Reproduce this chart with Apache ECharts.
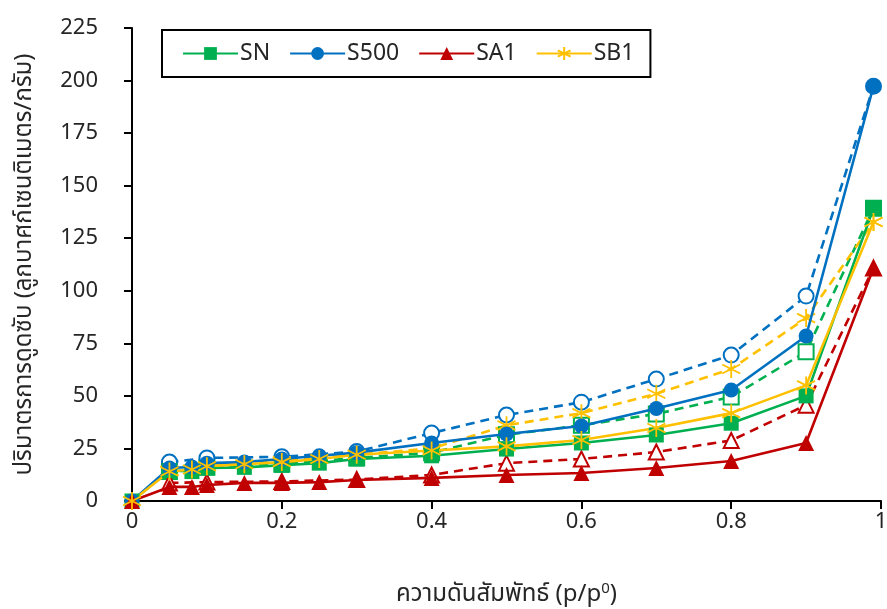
<!DOCTYPE html>
<html>
<head>
<meta charset="utf-8">
<script src="https://cdn.jsdelivr.net/npm/echarts@6/dist/echarts.min.js"></script>
<style>
  html, body { margin: 0; padding: 0; background: #fff; }
  #chart { width: 887px; height: 609px; }
</style>
</head>
<body>
<div id="chart"></div>
<script>
// Nitrogen sorption isotherms: adsorption (solid) and desorption (dashed)
const adsP = [0, 0.05, 0.08, 0.1, 0.15, 0.2, 0.25, 0.3, 0.4, 0.5, 0.6, 0.7, 0.8, 0.9, 0.99];
const desP = [0.05, 0.1, 0.2, 0.3, 0.4, 0.5, 0.6, 0.7, 0.8, 0.9, 0.99];

const snAds   = [0, 14.5, 14, 15.7, 16, 17, 18, 20, 21.5, 24.7, 27.6, 31.4, 37, 50, 139.3];
const s500Ads = [0, 15.7, 16.2, 18, 18.5, 20, 21.5, 23, 27.6, 31.9, 35.7, 44, 52.8, 78.5, 197.3];
const sa1Ads  = [0, 6.7, 6.7, 7.6, 8.6, 8.6, 9, 10, 11, 12.4, 13.3, 15.7, 19, 27.6, 110.8];
const sb1Ads  = [0, 14, 15, 16.5, 17.5, 18.5, 20, 22, 24, 26, 29, 34.7, 41.8, 55, 132.7];

const snDes   = [14, 16, 17.5, 20.5, 23, 31.5, 36, 41.4, 49.5, 71, 139.3];
const s500Des = [18.5, 20.5, 21, 23.5, 32.3, 40.9, 47, 58, 69.4, 97.5, 197.3];
const sa1Des  = [8.6, 9, 9.3, 10.2, 12.4, 18, 20, 23.3, 28.8, 45.6, 110.8];
const sb1Des  = [14.5, 16.5, 19, 22, 25, 36, 41.8, 51, 62.8, 87, 132.7];

const seriesNames = ['SN', 'S500', 'SA1', 'SB1'];
const xTicks = ['0', '0.2', '0.4', '0.6', '0.8', '1'];

const COLORS = { SN: '#00B050', S500: '#0070C0', SA1: '#C00000', SB1: '#FFC000' };
const STAR = 'path://M0,-10L0,10M-8.66,-5L8.66,5M-8.66,5L8.66,-5';
const FONT = '"Noto Sans", "Noto Sans Thai", "Open Sans", sans-serif';

function pairs(xs, ys) { return xs.map((x, i) => [x, ys[i]]); }

function adsSeries(name, ys, symbol) {
  const c = COLORS[name];
  const star = symbol === STAR;
  return {
    name, type: 'line', data: pairs(adsP, ys), z: 5,
    symbol, symbolSize: star ? 18 : (symbol === 'triangle' ? 16 : 15),
    lineStyle: { color: c, width: 2.6 },
    itemStyle: star ? { color: c, borderColor: c, borderWidth: 1.8 } : { color: c, borderWidth: 0 },
    emphasis: { disabled: true }, animation: false
  };
}

function desSeries(name, ys, symbol) {
  const c = COLORS[name];
  const star = symbol === STAR;
  return {
    name: name + ' des', type: 'line', data: pairs(desP, ys), z: 3,
    symbol, symbolSize: star ? 18 : 15,
    lineStyle: { color: c, width: 2.6, type: [9, 6] },
    itemStyle: { color: c, borderColor: c, borderWidth: star ? 1.8 : 2 },
    emphasis: { disabled: true }, animation: false
  };
}

const chart = echarts.init(document.getElementById('chart'), null, { renderer: 'canvas' });
chart.setOption({
  animation: false,
  textStyle: { fontFamily: FONT },
  grid: { left: 132, right: 6, top: 28, bottom: 108, containLabel: false, outerBoundsMode: 'none' },
  legend: {
    data: seriesNames,
    left: 162, top: 30,
    padding: [12, 16, 12, 20],
    itemWidth: 55, itemHeight: 16, itemGap: 19,
    borderColor: '#000', borderWidth: 2,
    textStyle: { fontSize: 23, color: '#262626', fontFamily: FONT, padding: [0, 0, 0, -3] }
  },
  xAxis: {
    type: 'value', min: 0, max: 1, interval: 0.2,
    axisLine: { lineStyle: { color: '#000', width: 2 } },
    axisTick: { show: true, inside: false, length: 8, lineStyle: { color: '#000', width: 2 } },
    splitLine: { show: false },
    axisLabel: {
      fontSize: 22, color: '#262626', margin: 10,
      formatter: (v) => xTicks[Math.round(v / 0.2)]
    },
    name: '{t|ความดันสัมพัทธ์ (p/p}{s|0}{t|)}',
    nameLocation: 'middle', nameGap: 80,
    nameTextStyle: {
      rich: {
        t: { fontSize: 24, color: '#262626', fontFamily: FONT },
        s: { fontSize: 15, color: '#262626', fontFamily: FONT, verticalAlign: 'top', padding: [0, 0, 12, 0] }
      }
    }
  },
  yAxis: {
    type: 'value', min: 0, max: 225, interval: 25,
    axisLine: { show: true, lineStyle: { color: '#000', width: 2 } },
    axisTick: { show: true, inside: false, length: 8, lineStyle: { color: '#000', width: 2 } },
    splitLine: { show: false },
    axisLabel: { fontSize: 22, color: '#262626', margin: 8, padding: [0, 26, 0, 0] },
    name: 'ปริมาตรการดูดซับ (ลูกบาศก์เซนติเมตร/กรัม)',
    nameLocation: 'middle', nameGap: 96,
    nameTextStyle: { fontSize: 24, color: '#262626' }
  },
  series: [
    desSeries('SN', snDes, 'emptyRect'),
    desSeries('S500', s500Des, 'emptyCircle'),
    desSeries('SA1', sa1Des, 'emptyTriangle'),
    desSeries('SB1', sb1Des, STAR),
    adsSeries('SN', snAds, 'rect'),
    adsSeries('S500', s500Ads, 'circle'),
    adsSeries('SA1', sa1Ads, 'triangle'),
    adsSeries('SB1', sb1Ads, STAR)
  ]
});
</script>
</body>
</html>
